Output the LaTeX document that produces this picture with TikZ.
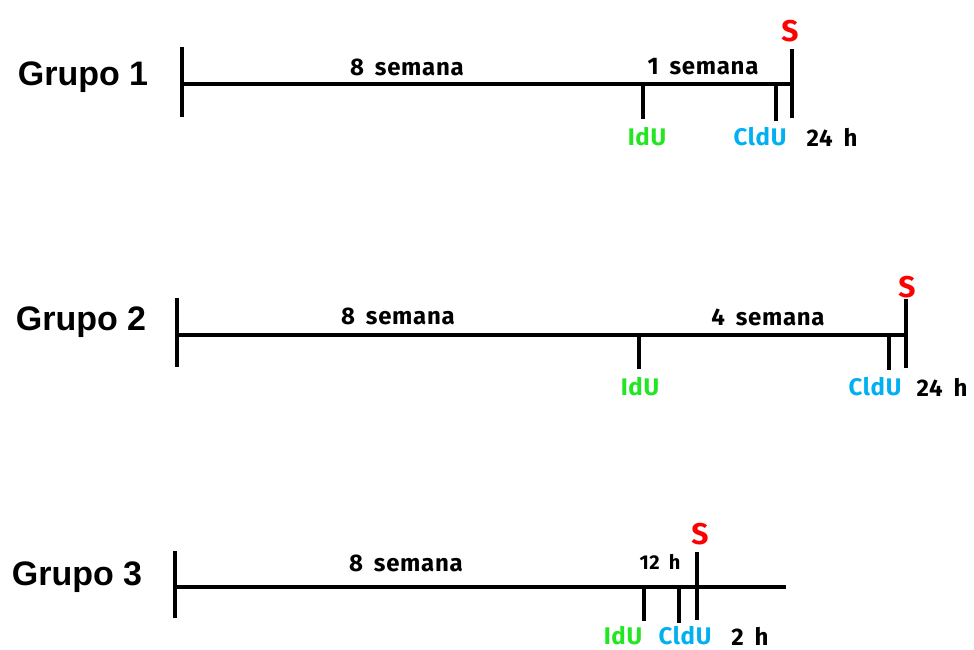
\documentclass[tikz,border=0pt]{standalone}
\usepackage{fontspec}
\setmainfont{Liberation Sans}
\newfontfamily\comicf{Fira Sans}[LetterSpace=3,WordSpace=1.7]
\definecolor{idugreen}{RGB}{34,230,34}
\definecolor{cldublue}{RGB}{0,176,240}
\definecolor{sred}{RGB}{255,0,0}
\begin{document}
\begin{tikzpicture}[x=1pt,y=-1pt,
  line/.style={line width=3.6pt},
  grp/.style={font=\fontsize{34}{36}\selectfont\bfseries, inner sep=0pt},
  lbl/.style={font=\comicf\fontsize{24}{26}\selectfont\bfseries, inner sep=0pt},
  idu/.style={lbl, text=idugreen},
  cldu/.style={lbl, text=cldublue},
  slab/.style={font=\comicf\fontsize{30}{32}\selectfont\bfseries, inner sep=0pt, text=sred}]
\useasboundingbox (0,0) rectangle (974,650);

% ---------- Grupo 1 ----------
\node[grp] (g1) at (83,77) {Grupo 1};
\coordinate (a1t) at (182,47); \coordinate (a1b) at (182,117);
\coordinate (a1m) at (182,84);
\coordinate (s1t) at (792,49); \coordinate (s1b) at (792,118);
\coordinate (s1m) at (792,84);
\coordinate (i1t) at (643,84); \coordinate (i1b) at (643,119);
\coordinate (c1t) at (776,84); \coordinate (c1b) at (776,121);
\draw[line] (a1t) -- (a1b);
\draw[line] (a1m) -- (s1m);
\draw[line] (s1t) -- (s1b);
\draw[line] (i1t) -- (i1b);
\draw[line] (c1t) -- (c1b);
\node[lbl] (w1a) at (407,67) {8 semana};
\node[lbl] (w1b) at (703,67) {1 semana};
\node[idu] (idu1) at (647,137) {IdU};
\node[cldu] (cld1) at (760,137) {CldU};
\node[lbl] (h1) at (832,137) {24 h};
\node[slab] (s1) at (790,31) {S};

% ---------- Grupo 2 ----------
\node[grp] (g2) at (81,322) {Grupo 2};
\coordinate (a2t) at (177,298); \coordinate (a2b) at (177,367);
\coordinate (a2m) at (177,335);
\coordinate (s2t) at (906,299); \coordinate (s2b) at (906,368);
\coordinate (s2m) at (906,335);
\coordinate (i2t) at (639,335); \coordinate (i2b) at (639,369);
\coordinate (c2t) at (889,335); \coordinate (c2b) at (889,370);
\draw[line] (a2t) -- (a2b);
\draw[line] (a2m) -- (s2m);
\draw[line] (s2t) -- (s2b);
\draw[line] (i2t) -- (i2b);
\draw[line] (c2t) -- (c2b);
\node[lbl] (w2a) at (398,316) {8 semana};
\node[lbl] (w2b) at (768,317) {4 semana};
\node[idu] (idu2) at (640,387) {IdU};
\node[cldu] (cld2) at (875,387) {CldU};
\node[lbl] (h2) at (942,387) {24 h};
\node[slab] (s2) at (907,287) {S};

% ---------- Grupo 3 ----------
\node[grp] (g3) at (77,577) {Grupo 3};
\coordinate (a3t) at (175,551); \coordinate (a3b) at (175,618);
\coordinate (a3m) at (175,587);
\coordinate (e3) at (786,587);
\coordinate (s3t) at (697,552); \coordinate (s3b) at (697,620);
\coordinate (i3t) at (644,587); \coordinate (i3b) at (644,621);
\coordinate (c3t) at (679,587); \coordinate (c3b) at (679,623);
\draw[line] (a3t) -- (a3b);
\draw[line] (a3m) -- (e3);
\draw[line] (s3t) -- (s3b);
\draw[line] (i3t) -- (i3b);
\draw[line] (c3t) -- (c3b);
\node[lbl] (w3a) at (406,563) {8 semana};
\node[lbl, font=\comicf\fontsize{20}{22}\selectfont\bfseries] (h3a) at (660,562) {12 h};
\node[idu] (idu3) at (623,636) {IdU};
\node[cldu] (cld3) at (685,636) {CldU};
\node[lbl] (h3b) at (750,636) {2 h};
\node[slab] (s3) at (700,534) {S};
\end{tikzpicture}
\end{document}
